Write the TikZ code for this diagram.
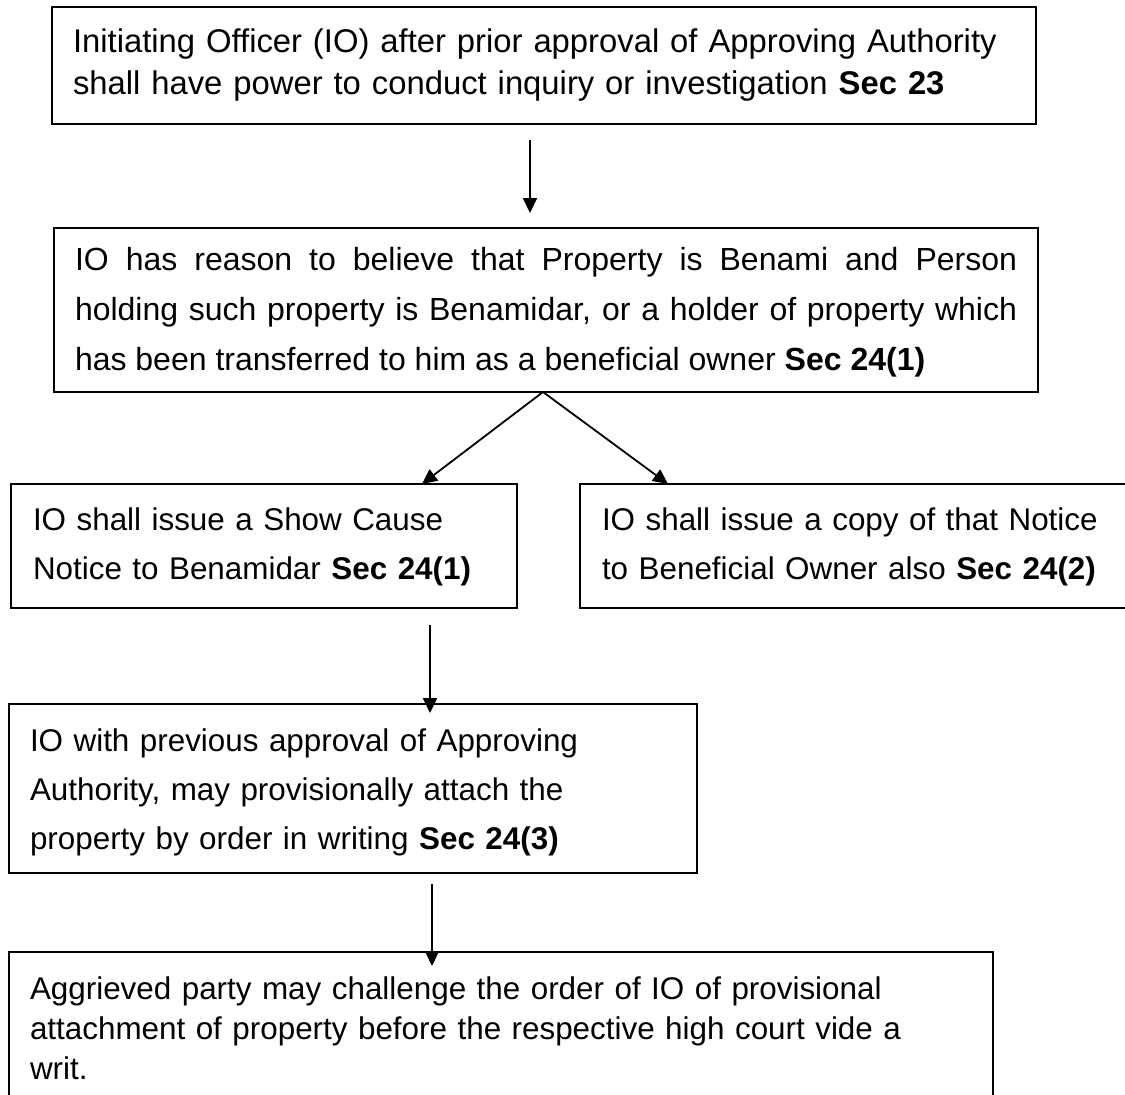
\documentclass[tikz,border=0pt]{standalone}
\usepackage{fontspec}
\setmainfont{Liberation Sans}
\usetikzlibrary{arrows.meta}
\begin{document}
\begin{tikzpicture}[x=1pt,y=-1pt,
  box/.style={draw=black, line width=1.8pt, rectangle, anchor=north west, inner sep=0pt, outer sep=0pt},
  txt/.style={anchor=base west, inner sep=0pt, outer sep=0pt, align=left, text width=#1},
  conn/.style={line width=1.8pt, -{Triangle[length=15pt,width=14pt]}}
]
\useasboundingbox (0,0) rectangle (1125,1095);
\clip (0,0) rectangle (1125,1095);
\fill[white] (0,0) rectangle (1125,1095);

% boxes
\node[box, minimum width=984pt, minimum height=117pt] (b1) at (52,7) {};
\node[box, minimum width=984pt, minimum height=164pt] (b2) at (54,228) {};
\node[box, minimum width=506pt, minimum height=124pt] (b3) at (11,484) {};
\node[box, minimum width=570pt, minimum height=124pt] (b4) at (580,484) {};
\node[box, minimum width=688pt, minimum height=169pt] (b5) at (9,704) {};
\node[box, minimum width=984pt, minimum height=170pt] (b6) at (9,952) {};

% texts
\node[txt=1000pt, font=\fontsize{32.8}{42}\selectfont] (t1) at (73,52)
  {Initiating Officer (IO) after prior approval of Approving Authority\\
   shall have power to conduct inquiry or investigation \textbf{Sec 23}};
\node[txt=942pt, align=justify, font=\fontsize{32}{50}\selectfont] (t2) at (75,270)
  {IO has reason to believe that Property is Benami and Person\linebreak
   holding such property is Benamidar, or a holder of property which\linebreak
   has been transferred to him as a beneficial owner \textbf{Sec 24(1)}};
\node[txt=480pt, font=\fontsize{31.4}{49}\selectfont] (t3) at (33,530)
  {IO shall issue a Show Cause\\
   Notice to Benamidar \textbf{Sec 24(1)}};
\node[txt=520pt, font=\fontsize{31.4}{49}\selectfont] (t4) at (602,530)
  {IO shall issue a copy of that Notice\\
   to Beneficial Owner also \textbf{Sec 24(2)}};
\node[txt=660pt, font=\fontsize{31.4}{49}\selectfont] (t5) at (30,751)
  {IO with previous approval of Approving\\
   Authority, may provisionally attach the\\
   property by order in writing \textbf{Sec 24(3)}};
\node[txt=960pt, font=\fontsize{31.4}{40}\selectfont] (t6) at (30,999)
  {Aggrieved party may challenge the order of IO of provisional\\
   attachment of property before the respective high court vide a\\
   writ.};

% connector end points
\coordinate (a1s) at (530,140);
\coordinate (a1e) at (530,213);
\coordinate (a2s) at (543,392);
\coordinate (a2l) at (422,484);
\coordinate (a2r) at (668,484);
\coordinate (a3s) at (430,625);
\coordinate (a3e) at (430,713);
\coordinate (a4s) at (432,884);
\coordinate (a4e) at (432,966);

\draw[conn] (a1s) -- (a1e);
\draw[conn] (a2s) -- (a2l);
\draw[conn] (a2s) -- (a2r);
\draw[conn] (a3s) -- (a3e);
\draw[conn] (a4s) -- (a4e);
\end{tikzpicture}
\end{document}
